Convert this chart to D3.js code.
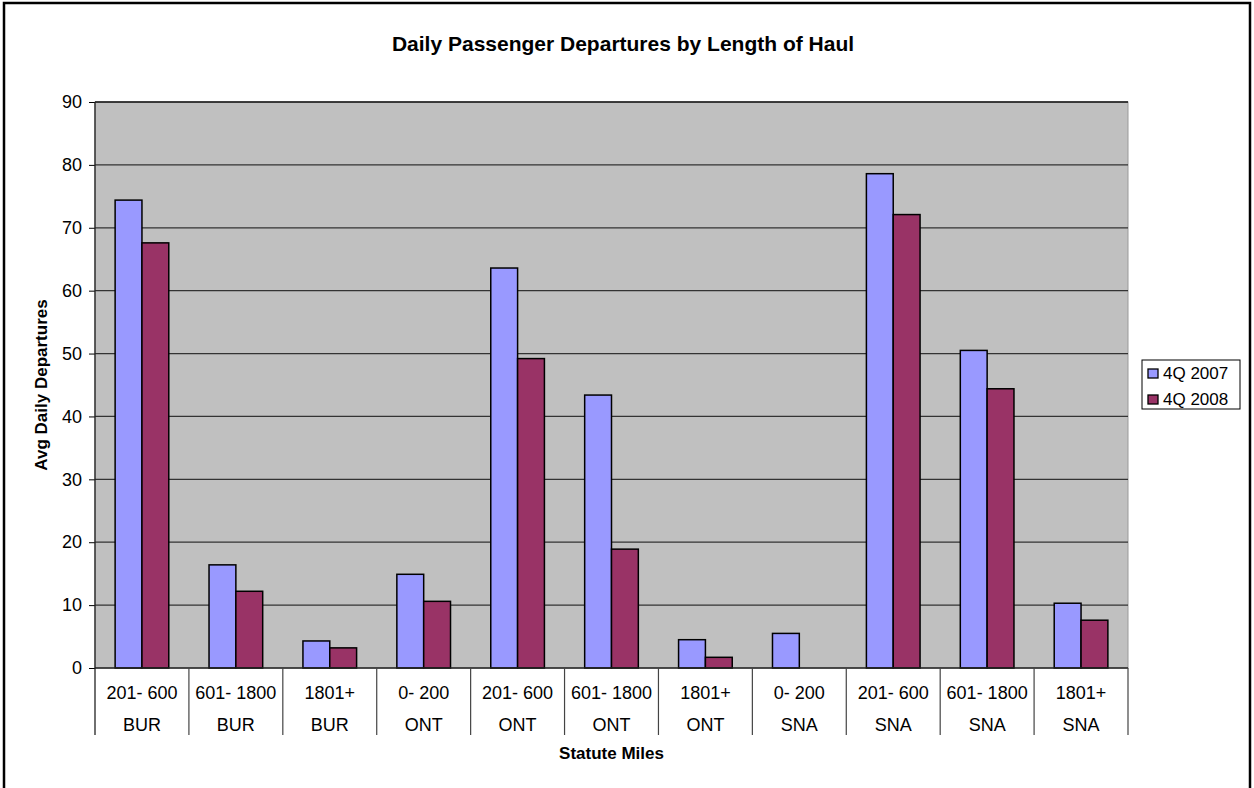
<!DOCTYPE html>
<html>
<head>
<meta charset="utf-8">
<script src="https://cdn.jsdelivr.net/npm/d3@7/dist/d3.min.js"></script>
<style>
  body { margin: 0; background: #fff; }
  svg { display: block; font-family: "Liberation Sans", Arial, sans-serif; }
</style>
</head>
<body>
<script>
// chart values
const hauls = ["201- 600", "601- 1800", "1801+", "0- 200", "201- 600", "601- 1800", "1801+", "0- 200", "201- 600", "601- 1800", "1801+"];
const airports = ["BUR", "BUR", "BUR", "ONT", "ONT", "ONT", "ONT", "SNA", "SNA", "SNA", "SNA"];
const dep2007 = [74.4, 16.4, 4.3, 14.9, 63.6, 43.4, 4.5, 5.5, 78.6, 50.5, 10.3];
const dep2008 = [67.6, 12.2, 3.2, 10.6, 49.2, 18.9, 1.7, null, 72.1, 44.4, 7.6];
const seriesNames = ["4Q 2007", "4Q 2008"];
const seriesColors = ["#9999FF", "#993366"];
const yTicks = [0, 10, 20, 30, 40, 50, 60, 70, 80, 90];

const W = 1254, H = 788;
const plot = { left: 95, right: 1128, top: 102, bottom: 668 };

const svg = d3.select("body").append("svg")
  .attr("width", W)
  .attr("height", H);

// outer chart border
svg.append("rect")
  .attr("x", 4).attr("y", 3)
  .attr("width", 1246).attr("height", 800)
  .attr("fill", "#fff")
  .attr("stroke", "#000")
  .attr("stroke-width", 2.5);

const idx = d3.range(hauls.length);
const x = d3.scaleBand().domain(idx).range([plot.left, plot.right]);
const inner = d3.scaleBand().domain([0, 1])
  .range([0, x.bandwidth()])
  .paddingOuter(0.75).paddingInner(0);
const y = d3.scaleLinear().domain([0, 90]).range([plot.bottom, plot.top]);

// plot area
svg.append("rect")
  .attr("x", plot.left).attr("y", plot.top)
  .attr("width", plot.right - plot.left)
  .attr("height", plot.bottom - plot.top)
  .attr("fill", "#C0C0C0")
  .attr("stroke", "#9a9a9a");

// gridlines
svg.append("g")
  .selectAll("line")
  .data(yTicks.filter(d => d > 0))
  .join("line")
  .attr("x1", plot.left).attr("x2", plot.right)
  .attr("y1", d => y(d)).attr("y2", d => y(d))
  .attr("stroke", d => d === 90 ? "#111" : "#333")
  .attr("stroke-width", 1.3);

// bars
const groups = [dep2007, dep2008];
groups.forEach((vals, s) => {
  svg.append("g")
    .selectAll("rect")
    .data(idx.filter(i => vals[i] != null))
    .join("rect")
    .attr("x", i => x(i) + inner(s))
    .attr("y", i => y(vals[i]))
    .attr("width", inner.bandwidth())
    .attr("height", i => y(0) - y(vals[i]))
    .attr("fill", seriesColors[s])
    .attr("stroke", "#000")
    .attr("stroke-width", 1.5);
});

// y axis
const yAxis = d3.axisLeft(y).tickValues(yTicks).tickSize(6).tickPadding(7);
const gy = svg.append("g")
  .attr("transform", `translate(${plot.left},0)`)
  .call(yAxis);
gy.select(".domain").remove();
gy.selectAll(".tick line").attr("stroke", "#000");
gy.selectAll(".tick text")
  .attr("font-size", 18)
  .attr("font-family", "Liberation Sans, Arial, sans-serif")
  .attr("fill", "#000");

svg.append("line")
  .attr("x1", plot.left).attr("x2", plot.left)
  .attr("y1", plot.top).attr("y2", 735)
  .attr("stroke", "#222").attr("stroke-width", 1.3);

// x axis line and category separators
svg.append("line")
  .attr("x1", plot.left).attr("x2", plot.right)
  .attr("y1", plot.bottom).attr("y2", plot.bottom)
  .attr("stroke", "#222").attr("stroke-width", 1.3);

svg.append("g")
  .selectAll("line")
  .data(d3.range(1, hauls.length + 1))
  .join("line")
  .attr("x1", i => plot.left + i * x.step())
  .attr("x2", i => plot.left + i * x.step())
  .attr("y1", plot.bottom).attr("y2", 735)
  .attr("stroke", "#444").attr("stroke-width", 1.2);

const labels = svg.append("g")
  .attr("font-size", 18)
  .attr("text-anchor", "middle")
  .attr("fill", "#000");

labels.selectAll("text.haul")
  .data(idx)
  .join("text")
  .attr("class", "haul")
  .attr("x", i => x(i) + x.bandwidth() / 2)
  .attr("y", 699)
  .text(i => hauls[i]);

labels.selectAll("text.port")
  .data(idx)
  .join("text")
  .attr("class", "port")
  .attr("x", i => x(i) + x.bandwidth() / 2)
  .attr("y", 731)
  .text(i => airports[i]);

// titles
svg.append("text")
  .attr("x", 623).attr("y", 51)
  .attr("text-anchor", "middle")
  .attr("font-size", 21)
  .attr("font-weight", "bold")
  .text("Daily Passenger Departures by Length of Haul");

svg.append("text")
  .attr("x", (plot.left + plot.right) / 2).attr("y", 759)
  .attr("text-anchor", "middle")
  .attr("font-size", 17)
  .attr("font-weight", "bold")
  .text("Statute Miles");

svg.append("text")
  .attr("transform", `translate(47,${(plot.top + plot.bottom) / 2}) rotate(-90)`)
  .attr("text-anchor", "middle")
  .attr("font-size", 17)
  .attr("font-weight", "bold")
  .text("Avg Daily Departures");

// legend
const legend = svg.append("g").attr("transform", "translate(1142,360)");
legend.append("rect")
  .attr("width", 98).attr("height", 49)
  .attr("fill", "#fff")
  .attr("stroke", "#000")
  .attr("stroke-width", 1);

const item = legend.selectAll("g.item")
  .data(seriesNames)
  .join("g")
  .attr("class", "item")
  .attr("transform", (d, i) => `translate(6,${9 + i * 26})`);

item.append("rect")
  .attr("y", 0)
  .attr("width", 10).attr("height", 9)
  .attr("fill", (d, i) => seriesColors[i])
  .attr("stroke", "#000")
  .attr("stroke-width", 1.3);

item.append("text")
  .attr("x", 15).attr("y", 10)
  .attr("font-size", 17)
  .text(d => d);
</script>
</body>
</html>
